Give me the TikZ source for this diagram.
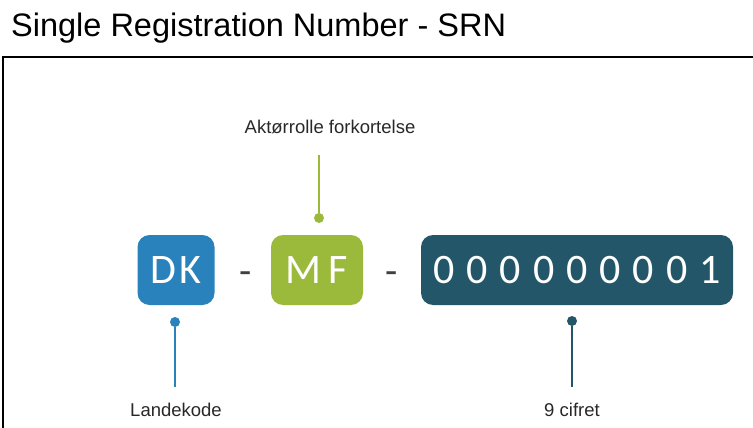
\documentclass[tikz,border=0pt]{standalone}
\usepackage{fontspec}
\setmainfont{Liberation Sans}
\newfontfamily\boxfont[LetterSpace=6]{Carlito}
\usetikzlibrary{positioning}
\definecolor{dkblue}{RGB}{41,130,187}
\definecolor{mfgreen}{RGB}{155,185,58}
\definecolor{nrteal}{RGB}{36,86,106}
\definecolor{labelgray}{RGB}{40,40,40}
\definecolor{sepgray}{RGB}{64,64,64}
\tikzset{
  codebox/.style={shape=rectangle,rounded corners=12pt,text=white,
    minimum height=70pt,inner sep=0pt,font=\boxfont\fontsize{42}{42}\selectfont},
  pin/.style={shape=circle,fill,inner sep=0pt,minimum size=10pt},
  caption/.style={text=labelgray,font=\fontsize{18.5}{19}\selectfont},
  sep/.style={text=sepgray,font=\boxfont\fontsize{40}{40}\selectfont}
}
\begin{document}
\begin{tikzpicture}[x=1pt,y=-1pt]
\useasboundingbox (0,0) rectangle (753,428);
\node [anchor=base west,inner sep=0pt,font=\fontsize{32.5}{33}\selectfont](title) at (11,37) {Single Registration Number - SRN};
\draw [line width=2pt](3,428) --(3,57) --(753,57);
\path
(176,270) node [codebox,fill=dkblue,minimum width=77pt](dk) {DK}
(317,270) node [codebox,fill=mfgreen,minimum width=92pt](mf) {M\,F}
(577,270) node [codebox,fill=nrteal,minimum width=312pt](nr) {0 0 0 0 0 0 0 0 1}
(246,278) node [sep](s1) {-}
(392,278) node [sep](s2) {-};
\path
(319,218) node [pin,mfgreen](mfpin) {}
(175,322) node [pin,dkblue](dkpin) {}
(572,321) node [pin,nrteal](nrpin) {};
\coordinate (mfend) at (319,155);
\coordinate (dkend) at (175,387);
\coordinate (nrend) at (572,387);
\draw [mfgreen,line width=2pt](mfpin) --(mfend);
\draw [dkblue,line width=2pt](dkpin) --(dkend);
\draw [nrteal,line width=2pt](nrpin) --(nrend);
\node [caption] (mflabel) at (330,127) {Aktørrolle forkortelse};
\node [caption] (dklabel) at (176,410) {Landekode};
\node [caption] (nrlabel) at (572,410) {9 cifret};
\end{tikzpicture}
\end{document}
